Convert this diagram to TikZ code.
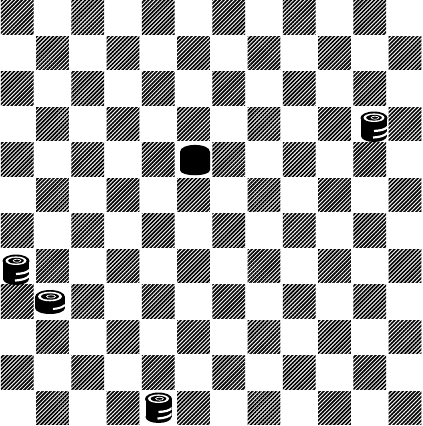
\documentclass[tikz,border=0pt]{standalone}
\usetikzlibrary{patterns.meta}
\begin{document}
\begin{tikzpicture}[x=1pt,y=-1pt,
  darksq/.style={pattern={Lines[angle=45,distance=2.8pt,line width=1.65pt]},pattern color=black},
  tallpiece/.pic={
    \fill[black] (-13,0) rectangle (13,18);
    \fill[black] (0,18) ellipse [x radius=13,y radius=6];
    \fill[black] (0,0) ellipse [x radius=13.5,y radius=6.5];
    \fill[white] (0,-0.3) ellipse [x radius=10.5,y radius=4.3];
    \fill[black] (0,-0.3) ellipse [x radius=7.8,y radius=2.9];
    \draw[white,line width=0.7pt] (1,-0.3) ellipse [x radius=3.8,y radius=1.5];
    \begin{scope}
      \clip (-13,6) rectangle (13,24.5);
      \draw[white,line width=2.2pt] (0,13) .. controls (7,12.6) and (11,11.5) .. (13.5,9);
      \draw[white,line width=2.2pt] (-1,19.5) .. controls (7,19) and (11,17.5) .. (13.5,14.5);
    \end{scope}
  },
  shortpiece/.pic={
    \fill[black] (-15,0) rectangle (15,11);
    \fill[black] (0,11) ellipse [x radius=15,y radius=6];
    \fill[black] (0,0) ellipse [x radius=15,y radius=7];
    \fill[white] (0,-0.5) ellipse [x radius=12,y radius=4.8];
    \fill[black] (0,-0.5) ellipse [x radius=9,y radius=3.2];
    \draw[white,line width=0.7pt] (1,-0.5) ellipse [x radius=4.5,y radius=1.6];
    \draw[white,line width=2pt] (3,12) .. controls (8,11.6) and (12,10.5) .. (15,8);
  },
  blackpiece/.pic={
    \fill[black] (-15,-8) .. controls (-15,-17.5) and (15,-17.5) .. (15,-8)
      -- (15,10) .. controls (15,17) and (-15,17) .. (-15,10) -- cycle;
  }]
\useasboundingbox (0,0) rectangle (423,426);
\fill[white] (0,0) rectangle (423,426);
\foreach \r in {0,...,11}{
  \foreach \k in {0,...,5}{
    \pgfmathtruncatemacro\c{2*\k+mod(\r,2)}
    \path[darksq] (\c*35.25+0.8,\r*35.5+0.6) rectangle ++(32.8,33.5);
  }
}
\pic at (374,118) {tallpiece};
\pic at (16,261) {tallpiece};
\pic at (158.5,399) {tallpiece};
\pic at (50,297) {shortpiece};
\pic at (195,160) {blackpiece};
\end{tikzpicture}
\end{document}
